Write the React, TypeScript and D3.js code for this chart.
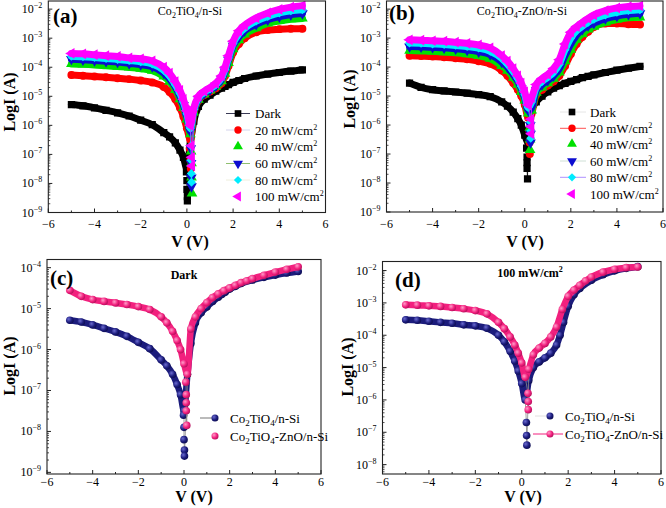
import React from "react";
import * as d3 from "d3";

// ---------- Co2TiO4/n-Si (panel a) ----------
const V_CT = [-5, -4.5, -4, -3.5, -3, -2.5, -2, -1.5, -1, -0.75, -0.5, -0.3, -0.15, 0, 0.15, 0.3, 0.5, 0.75, 1, 1.25, 1.5, 1.65, 1.8, 2, 2.25, 2.5, 3, 3.5, 4, 4.5, 5];
const I_CT_DARK = [5.2e-6, 4.7e-6, 4.0e-6, 3.3e-6, 2.7e-6, 2.1e-6, 1.5e-6, 1.05e-6, 5.6e-7, 4.0e-7, 2.5e-7, 1.4e-7, 7.9e-8, 3.2e-8, 2.5e-7, 1.4e-6, 4.5e-6, 7.9e-6, 1.1e-5, 1.5e-5, 1.9e-5, 2.2e-5, 2.5e-5, 3.0e-5, 3.5e-5, 4.1e-5, 5.0e-5, 5.8e-5, 6.6e-5, 7.4e-5, 8.1e-5];
const I_CT_20 = [5.4e-5, 5.1e-5, 4.8e-5, 4.5e-5, 4.2e-5, 3.9e-5, 3.5e-5, 3.0e-5, 2.1e-5, 1.4e-5, 7.9e-6, 4.0e-6, 2.0e-6, 7.9e-7, 3.2e-7, 2.5e-6, 7.1e-6, 1.1e-5, 1.45e-5, 1.9e-5, 2.8e-5, 5.0e-5, 1.1e-4, 3.2e-4, 6.3e-4, 1.0e-3, 1.6e-3, 1.9e-3, 2.05e-3, 2.1e-3, 2.1e-3];
const I_CT_40 = [1.3e-4, 1.26e-4, 1.2e-4, 1.12e-4, 1.05e-4, 9.8e-5, 8.9e-5, 7.6e-5, 4.8e-5, 3.2e-5, 1.66e-5, 7.9e-6, 4.0e-6, 1.6e-6, 5.0e-7, 2.8e-6, 7.6e-6, 1.17e-5, 1.6e-5, 2.1e-5, 3.3e-5, 6.0e-5, 1.4e-4, 4.2e-4, 8.5e-4, 1.35e-3, 2.2e-3, 3.2e-3, 3.9e-3, 4.5e-3, 4.8e-3];
const I_CT_60 = [1.9e-4, 1.8e-4, 1.7e-4, 1.6e-4, 1.5e-4, 1.35e-4, 1.23e-4, 1.05e-4, 6.3e-5, 4.0e-5, 2.1e-5, 1.0e-5, 5.0e-6, 2.0e-6, 6.3e-7, 3.2e-6, 7.9e-6, 1.26e-5, 1.66e-5, 2.3e-5, 3.8e-5, 7.1e-5, 1.8e-4, 5.5e-4, 1.1e-3, 1.8e-3, 3.0e-3, 4.3e-3, 5.5e-3, 6.5e-3, 7.1e-3];
const I_CT_80 = [2.4e-4, 2.3e-4, 2.15e-4, 2.0e-4, 1.86e-4, 1.7e-4, 1.55e-4, 1.3e-4, 7.9e-5, 5.0e-5, 2.5e-5, 1.26e-5, 6.3e-6, 2.5e-6, 7.9e-7, 3.5e-6, 8.9e-6, 1.38e-5, 1.8e-5, 2.5e-5, 4.4e-5, 8.3e-5, 2.1e-4, 6.6e-4, 1.4e-3, 2.2e-3, 3.9e-3, 5.6e-3, 7.4e-3, 8.7e-3, 9.5e-3];
const I_CT_100 = [3.0e-4, 2.9e-4, 2.7e-4, 2.5e-4, 2.35e-4, 2.1e-4, 1.95e-4, 1.65e-4, 1.0e-4, 6.3e-5, 3.2e-5, 1.6e-5, 7.9e-6, 3.2e-6, 1.0e-6, 4.0e-6, 1.0e-5, 1.5e-5, 2.0e-5, 2.8e-5, 5.0e-5, 1.0e-4, 2.5e-4, 7.9e-4, 1.8e-3, 2.8e-3, 5.0e-3, 7.4e-3, 9.8e-3, 1.17e-2, 1.32e-2];
// scattered points at the current minimum
const DV_CT_DARK = [-0.02, 0, 0, 0.02, 0.02];
const DI_CT_DARK = [2.5e-8, 1.26e-8, 6.3e-9, 3.5e-9, 2.5e-9];
const DV_CT_20 = [0.12, 0.15, 0.17];
const DI_CT_20 = [1.6e-7, 6.3e-8, 3.2e-8];
const DV_CT_40 = [0.18, 0.2, 0.2, 0.22];
const DI_CT_40 = [1.26e-7, 5.0e-8, 1.6e-8, 4.5e-9];
const DV_CT_60 = [0.17, 0.18, 0.19, 0.2];
const DI_CT_60 = [1.6e-7, 5.0e-8, 1.6e-8, 7.9e-9];
const DV_CT_80 = [0.17, 0.18, 0.19, 0.2];
const DI_CT_80 = [2.0e-7, 6.3e-8, 2.2e-8, 1.1e-8];
const DV_CT_100 = [0.2, 0.21, 0.22];
const DI_CT_100 = [2.0e-7, 7.9e-8, 4.0e-8];

// ---------- Co2TiO4-ZnO/n-Si (panel b) ----------
const V_CTZ = [-5, -4.5, -4, -3.5, -3, -2.5, -2, -1.5, -1, -0.75, -0.5, -0.3, -0.15, 0, 0.15, 0.3, 0.5, 0.75, 1, 1.25, 1.5, 1.75, 2, 2.25, 2.5, 2.75, 3, 3.5, 4, 4.5, 5];
const I_CTZ_DARK = [2.8e-5, 2.0e-5, 1.66e-5, 1.5e-5, 1.38e-5, 1.26e-5, 1.12e-5, 9.5e-6, 6.3e-6, 4.5e-6, 2.8e-6, 1.66e-6, 1.0e-6, 4.5e-7, 2.5e-7, 3.2e-6, 6.3e-6, 1.0e-5, 1.4e-5, 1.86e-5, 2.3e-5, 2.75e-5, 3.2e-5, 3.7e-5, 4.3e-5, 4.8e-5, 5.4e-5, 6.5e-5, 7.8e-5, 9.1e-5, 1.05e-4];
const I_CTZ_20 = [2.45e-4, 2.4e-4, 2.3e-4, 2.2e-4, 2.0e-4, 1.86e-4, 1.6e-4, 1.3e-4, 7.6e-5, 5.0e-5, 2.8e-5, 1.66e-5, 1.0e-5, 5.0e-6, 1.8e-6, 2.5e-6, 1.1e-5, 1.66e-5, 2.3e-5, 3.2e-5, 5.0e-5, 1.1e-4, 2.8e-4, 6.3e-4, 1.1e-3, 1.66e-3, 2.4e-3, 3.2e-3, 3.2e-3, 3.0e-3, 2.95e-3];
const I_CTZ_40 = [3.7e-4, 3.6e-4, 3.5e-4, 3.3e-4, 3.1e-4, 2.8e-4, 2.45e-4, 1.95e-4, 1.1e-4, 7.6e-5, 4.3e-5, 2.5e-5, 1.4e-5, 7.1e-6, 2.5e-6, 3.2e-6, 1.3e-5, 2.0e-5, 2.8e-5, 4.0e-5, 6.6e-5, 1.6e-4, 4.0e-4, 8.9e-4, 1.4e-3, 2.0e-3, 2.5e-3, 3.5e-3, 4.4e-3, 5.0e-3, 5.2e-3];
const I_CTZ_60 = [5.1e-4, 5.0e-4, 4.8e-4, 4.6e-4, 4.3e-4, 3.9e-4, 3.4e-4, 2.7e-4, 1.5e-4, 1.0e-4, 5.6e-5, 3.2e-5, 1.8e-5, 8.9e-6, 3.2e-6, 4.0e-6, 1.6e-5, 2.5e-5, 3.5e-5, 5.0e-5, 8.9e-5, 2.5e-4, 6.3e-4, 1.26e-3, 2.0e-3, 2.7e-3, 3.3e-3, 4.7e-3, 5.8e-3, 6.6e-3, 7.2e-3];
const I_CTZ_80 = [6.8e-4, 6.6e-4, 6.3e-4, 6.0e-4, 5.6e-4, 5.1e-4, 4.5e-4, 3.5e-4, 2.0e-4, 1.26e-4, 7.1e-5, 4.0e-5, 2.2e-5, 1.1e-5, 4.0e-6, 6.3e-6, 2.0e-5, 3.2e-5, 4.5e-5, 6.6e-5, 1.26e-4, 4.0e-4, 1.0e-3, 1.8e-3, 2.6e-3, 3.5e-3, 4.5e-3, 6.3e-3, 7.8e-3, 8.9e-3, 9.5e-3];
const I_CTZ_100 = [8.7e-4, 8.5e-4, 8.1e-4, 7.8e-4, 7.2e-4, 6.6e-4, 5.8e-4, 4.6e-4, 2.5e-4, 1.6e-4, 8.9e-5, 5.0e-5, 2.8e-5, 1.4e-5, 5.0e-6, 8.9e-6, 2.5e-5, 4.0e-5, 5.6e-5, 8.9e-5, 1.8e-4, 6.3e-4, 1.6e-3, 2.5e-3, 3.5e-3, 4.8e-3, 6.3e-3, 8.9e-3, 1.1e-2, 1.23e-2, 1.29e-2];
const DV_CTZ_DARK = [0.08, 0.1, 0.1, 0.1, 0.12];
const DI_CTZ_DARK = [1.6e-7, 7.9e-8, 5.0e-8, 3.2e-8, 1.4e-8];
const DV_CTZ_20 = [0.2, 0.21, 0.22];
const DI_CTZ_20 = [6.3e-7, 2.5e-7, 1.0e-7];
const DV_CTZ_40 = [0.22, 0.23, 0.23];
const DI_CTZ_40 = [7.9e-7, 3.2e-7, 1.4e-7];
const DV_CTZ_60 = [0.24, 0.25, 0.25];
const DI_CTZ_60 = [1.0e-6, 5.0e-7, 2.5e-7];
const DV_CTZ_80 = [0.25, 0.26, 0.26];
const DI_CTZ_80 = [1.26e-6, 6.3e-7, 3.5e-7];
const DV_CTZ_100 = [0.27, 0.28, 0.28];
const DI_CTZ_100 = [1.6e-6, 8.9e-7, 5.0e-7];

const POWER_LABELS = ["Dark", "20 mW/cm", "40 mW/cm", "60 mW/cm", "80 mW/cm", "100 mW/cm"];
const X_TICKS = [-6, -4, -2, 0, 2, 4, 6];
const X_MINOR = [-5, -3, -1, 1, 3, 5];

const FONT = "Liberation Serif, Times New Roman, serif";
const NAVY = "#1c1c7c";
const PINK = "#f2207e";

type Series = { v: number[]; i: number[]; dv: number[]; di: number[]; color: string; sym: string };

const COLORS6 = ["#000000", "#ff0000", "#00e000", "#0c0cd0", "#00ecff", "#ff00ff"];
const SYMS6 = ["square", "circle", "up", "down", "diamond", "left"];

const CT_SERIES: Series[] = [
  { v: V_CT, i: I_CT_DARK, dv: DV_CT_DARK, di: DI_CT_DARK, color: COLORS6[0], sym: SYMS6[0] },
  { v: V_CT, i: I_CT_20, dv: DV_CT_20, di: DI_CT_20, color: COLORS6[1], sym: SYMS6[1] },
  { v: V_CT, i: I_CT_40, dv: DV_CT_40, di: DI_CT_40, color: COLORS6[2], sym: SYMS6[2] },
  { v: V_CT, i: I_CT_60, dv: DV_CT_60, di: DI_CT_60, color: COLORS6[3], sym: SYMS6[3] },
  { v: V_CT, i: I_CT_80, dv: DV_CT_80, di: DI_CT_80, color: COLORS6[4], sym: SYMS6[4] },
  { v: V_CT, i: I_CT_100, dv: DV_CT_100, di: DI_CT_100, color: COLORS6[5], sym: SYMS6[5] },
];
const CTZ_SERIES: Series[] = [
  { v: V_CTZ, i: I_CTZ_DARK, dv: DV_CTZ_DARK, di: DI_CTZ_DARK, color: COLORS6[0], sym: SYMS6[0] },
  { v: V_CTZ, i: I_CTZ_20, dv: DV_CTZ_20, di: DI_CTZ_20, color: COLORS6[1], sym: SYMS6[1] },
  { v: V_CTZ, i: I_CTZ_40, dv: DV_CTZ_40, di: DI_CTZ_40, color: COLORS6[2], sym: SYMS6[2] },
  { v: V_CTZ, i: I_CTZ_60, dv: DV_CTZ_60, di: DI_CTZ_60, color: COLORS6[3], sym: SYMS6[3] },
  { v: V_CTZ, i: I_CTZ_80, dv: DV_CTZ_80, di: DI_CTZ_80, color: COLORS6[4], sym: SYMS6[4] },
  { v: V_CTZ, i: I_CTZ_100, dv: DV_CTZ_100, di: DI_CTZ_100, color: COLORS6[5], sym: SYMS6[5] },
];
const DARK_SERIES: Series[] = [
  { v: V_CT, i: I_CT_DARK, dv: DV_CT_DARK, di: DI_CT_DARK, color: NAVY, sym: "ball" },
  { v: V_CTZ, i: I_CTZ_DARK, dv: DV_CTZ_DARK, di: DI_CTZ_DARK, color: PINK, sym: "ball" },
];
const LIGHT_SERIES: Series[] = [
  { v: V_CT, i: I_CT_100, dv: DV_CT_100, di: DI_CT_100, color: NAVY, sym: "ball" },
  { v: V_CTZ, i: I_CTZ_100, dv: DV_CTZ_100, di: DI_CTZ_100, color: PINK, sym: "ball" },
];

function symPath(sym: string, size: number) {
  if (sym === "circle" || sym === "ball") return d3.symbol().type(d3.symbolCircle).size(size)() as string;
  if (sym === "square" || sym === "diamond") return d3.symbol().type(d3.symbolSquare).size(size)() as string;
  return d3.symbol().type(d3.symbolTriangle).size(size)() as string;
}
function symRot(sym: string) {
  if (sym === "down") return 180;
  if (sym === "left") return -90;
  if (sym === "diamond") return 45;
  return 0;
}
function symSize(sym: string) {
  if (sym === "square") return 52;
  if (sym === "circle") return 50;
  if (sym === "ball") return 46;
  if (sym === "diamond") return 40;
  return 50;
}

function Marker({ x, y, s, scale = 1 }: { x: number; y: number; s: Series; scale?: number }) {
  const fill = s.sym === "ball" ? `url(#ball-${s.color === NAVY ? "navy" : "pink"})` : s.color;
  return (
    <path
      d={symPath(s.sym, symSize(s.sym) * scale)}
      transform={`translate(${x},${y}) rotate(${symRot(s.sym)})`}
      fill={fill}
    />
  );
}

type Legend = { rows: number[]; sx: number; tx: number; lines: (null | [number, number, string])[]; labels: React.ReactNode[] };

type PanelCfg = {
  id: string;
  x0: number; x1: number; y0: number; y1: number;
  lmin: number; lmax: number;
  series: Series[];
  legend: Legend;
  tag: string; tagX: number; tagY: number;
  title: React.ReactNode;
  xLabelX: number; xLabelY: number; xTickY: number;
  yLabelX: number; yLabelY: number;
};

function Panel({ p }: { p: PanelCfg }) {
  const x = d3.scaleLinear().domain([-6, 6]).range([p.x0, p.x1]);
  const y = d3.scaleLog().domain([Math.pow(10, p.lmin), Math.pow(10, p.lmax)]).range([p.y1, p.y0]);
  const band = d3.line<[number, number]>().x((d) => x(d[0])).y((d) => y(d[1])).curve(d3.curveMonotoneX);
  const thin = d3.line<[number, number]>().x((d) => x(d[0])).y((d) => y(d[1]));
  const majors: number[] = [];
  const minors: number[] = [];
  for (let n = Math.floor(p.lmin); n <= Math.ceil(p.lmax); n++) {
    if (n >= p.lmin - 1e-9 && n <= p.lmax + 1e-9) majors.push(n);
    for (let m = 2; m <= 9; m++) {
      const lv = n + Math.log10(m);
      if (lv > p.lmin && lv < p.lmax) minors.push(Math.pow(10, lv));
    }
  }
  const clip = `clip-${p.id}`;
  const bw = p.series[0].sym === "ball" ? 6.5 : 7;
  return (
    <g>
      <clipPath id={clip}>
        <rect x={p.x0} y={p.y0} width={p.x1 - p.x0} height={p.y1 - p.y0} />
      </clipPath>
      <g clipPath={`url(#${clip})`}>
        {p.series.map((s, k) => {
          const main: [number, number][] = s.v.map((v, j) => [v, s.i[j]]);
          const all: [number, number][] = main.concat(s.dv.map((v, j) => [v, s.di[j]] as [number, number]));
          all.sort((a, b) => a[0] - b[0] || b[1] - a[1]);
          return (
            <g key={k}>
              <path d={thin(all) as string} fill="none" stroke={s.sym === "ball" ? "#888" : s.color} strokeWidth={0.8} />
              <path d={band(main) as string} fill="none" stroke={s.color} strokeWidth={bw} strokeLinejoin="round" strokeLinecap="round" />
              {main.map((d, j) => (
                <Marker key={"m" + j} x={x(d[0])} y={y(d[1])} s={s} />
              ))}
              {s.dv.map((v, j) => (
                <Marker key={"d" + j} x={x(v)} y={y(s.di[j])} s={s} />
              ))}
            </g>
          );
        })}
      </g>
      <rect x={p.x0} y={p.y0} width={p.x1 - p.x0} height={p.y1 - p.y0} fill="none" stroke="#222" strokeWidth={1.1} />
      {X_TICKS.map((t) => (
        <g key={"xt" + t}>
          <line x1={x(t)} x2={x(t)} y1={p.y1} y2={p.y1 - 4} stroke="#222" />
          <text x={x(t)} y={p.xTickY} textAnchor="middle" fontSize={12} fontFamily={FONT}>
            {t < 0 ? "\u2212" + Math.abs(t) : String(t)}
          </text>
        </g>
      ))}
      {X_MINOR.map((t) => (
        <line key={"xm" + t} x1={x(t)} x2={x(t)} y1={p.y1} y2={p.y1 - 2} stroke="#222" />
      ))}
      {majors.map((n) => (
        <g key={"yt" + n}>
          <line x1={p.x0} x2={p.x0 + 4} y1={y(Math.pow(10, n))} y2={y(Math.pow(10, n))} stroke="#222" />
          <text x={p.x0 - 6} y={y(Math.pow(10, n)) + 4} textAnchor="end" fontSize={12} fontFamily={FONT}>
            <tspan>10</tspan>
            <tspan dy={-5} fontSize={8}>{"\u2212" + Math.abs(n)}</tspan>
          </text>
        </g>
      ))}
      {minors.map((v, k) => (
        <line key={"ym" + k} x1={p.x0} x2={p.x0 + 2} y1={y(v)} y2={y(v)} stroke="#222" strokeWidth={0.8} />
      ))}
      <text x={p.tagX} y={p.tagY} fontSize={21} fontWeight="bold" fontFamily={FONT}>{p.tag}</text>
      {p.title}
      <text x={p.xLabelX} y={p.xLabelY} textAnchor="middle" fontSize={16} fontWeight="bold" fontFamily={FONT}>V (V)</text>
      <text transform={`translate(${p.yLabelX},${p.yLabelY}) rotate(-90)`} textAnchor="middle" fontSize={16} fontWeight="bold" fontFamily={FONT}>LogI (A)</text>
      {p.legend.rows.map((ry, k) => {
        const ln = p.legend.lines[k];
        return (
          <g key={"lg" + k}>
            {ln && <line x1={ln[0]} x2={ln[1]} y1={ry} y2={ry} stroke={ln[2]} strokeWidth={1} />}
            <Marker x={p.legend.sx} y={ry} s={p.series[k]} scale={0.85} />
            <text x={p.legend.tx} y={ry + 4.5} fontSize={13} fontFamily={FONT}>{p.legend.labels[k]}</text>
          </g>
        );
      })}
    </g>
  );
}

function powerLabel(k: number) {
  if (k === 0) return <tspan>{POWER_LABELS[0]}</tspan>;
  return (
    <>
      <tspan>{POWER_LABELS[k]}</tspan>
      <tspan dy={-5} fontSize={8}>2</tspan>
    </>
  );
}

function Chem({ x, y, zno }: { x: number; y: number; zno: boolean }) {
  return (
    <text x={x} y={y} textAnchor="middle" fontSize={12} fontFamily={FONT}>
      <ChemTs zno={zno} sub={8} />
    </text>
  );
}

function ChemTs({ zno, sub = 9 }: { zno: boolean; sub?: number }) {
  return (
    <>
      <tspan>Co</tspan>
      <tspan dy={3} fontSize={sub}>2</tspan>
      <tspan dy={-3}>TiO</tspan>
      <tspan dy={3} fontSize={sub}>4</tspan>
      <tspan dy={-3}>{zno ? "-ZnO/n-Si" : "/n-Si"}</tspan>
    </>
  );
}

const PANELS: PanelCfg[] = [
  {
    id: "a", x0: 48.3, x1: 325.5, y0: 1, y1: 212.5, lmin: -9, lmax: -1.72,
    series: CT_SERIES,
    legend: {
      rows: [113.5, 130, 146.5, 163.5, 180, 196.5], sx: 238, tx: 255,
      lines: [[226, 250, "#3a3a55"], [226, 250, "#d4d4ec"], null, [226, 250, "#8fbf6f"], [226, 250, "#eeeedc"], null],
      labels: [0, 1, 2, 3, 4, 5].map(powerLabel),
    },
    tag: "(a)", tagX: 53, tagY: 23,
    title: <Chem x={190} y={15} zno={false} />,
    xLabelX: 190, xLabelY: 247, xTickY: 228, yLabelX: 15, yLabelY: 102,
  },
  {
    id: "b", x0: 386.5, x1: 663, y0: 1, y1: 212, lmin: -9, lmax: -1.72,
    series: CTZ_SERIES,
    legend: {
      rows: [112, 128.3, 144, 161, 177.3, 194], sx: 572, tx: 590,
      lines: [[560, 586, "#e6e6e6"], [560, 586, "#ff5050"], null, [560, 586, "#cfe0d6"], [560, 586, "#b090ff"], null],
      labels: [0, 1, 2, 3, 4, 5].map(powerLabel),
    },
    tag: "(b)", tagX: 389, tagY: 20,
    title: <Chem x={522} y={15} zno={true} />,
    xLabelX: 525, xLabelY: 247, xTickY: 228, yLabelX: 355, yLabelY: 99,
  },
  {
    id: "c", x0: 47, x1: 321, y0: 259.5, y1: 474, lmin: -9.04, lmax: -3.8,
    series: DARK_SERIES,
    legend: {
      rows: [418, 436], sx: 215, tx: 230,
      lines: [[200, 218, "#777777"], null],
      labels: [<ChemTs zno={false} />, <ChemTs zno={true} />],
    },
    tag: "(c)", tagX: 50, tagY: 285,
    title: <text x={184} y={279} textAnchor="middle" fontSize={12} fontWeight="bold" fontFamily={FONT}>Dark</text>,
    xLabelX: 194, xLabelY: 502, xTickY: 486, yLabelX: 15, yLabelY: 366,
  },
  {
    id: "d", x0: 382.5, x1: 661, y0: 261.5, y1: 474, lmin: -8.29, lmax: -1.72,
    series: LIGHT_SERIES,
    legend: {
      rows: [416, 434], sx: 550, tx: 565,
      lines: [[535, 550, "#e0e0e0"], [533, 563, PINK]],
      labels: [<ChemTs zno={false} />, <ChemTs zno={true} />],
    },
    tag: "(d)", tagX: 395, tagY: 287,
    title: (
      <text x={530} y={277} textAnchor="middle" fontSize={12} fontWeight="bold" fontFamily={FONT}>
        <tspan>100 mW/cm</tspan>
        <tspan dy={-5} fontSize={8}>2</tspan>
      </text>
    ),
    xLabelX: 523, xLabelY: 502, xTickY: 486, yLabelX: 353, yLabelY: 367,
  },
];

export default function App() {
  return (
    <svg width={666} height={508} style={{ position: "absolute", left: 0, top: 0, background: "#fff" }}>
      <defs>
        <radialGradient id="ball-navy" cx="35%" cy="35%" r="70%">
          <stop offset="0%" stopColor="#6a6ad0" />
          <stop offset="60%" stopColor={NAVY} />
          <stop offset="100%" stopColor="#0c0c50" />
        </radialGradient>
        <radialGradient id="ball-pink" cx="35%" cy="35%" r="70%">
          <stop offset="0%" stopColor="#ff9cc8" />
          <stop offset="60%" stopColor={PINK} />
          <stop offset="100%" stopColor="#b0105a" />
        </radialGradient>
      </defs>
      <rect x={0} y={0} width={666} height={508} fill="#fff" />
      {PANELS.map((p) => (
        <Panel key={p.id} p={p} />
      ))}
    </svg>
  );
}
